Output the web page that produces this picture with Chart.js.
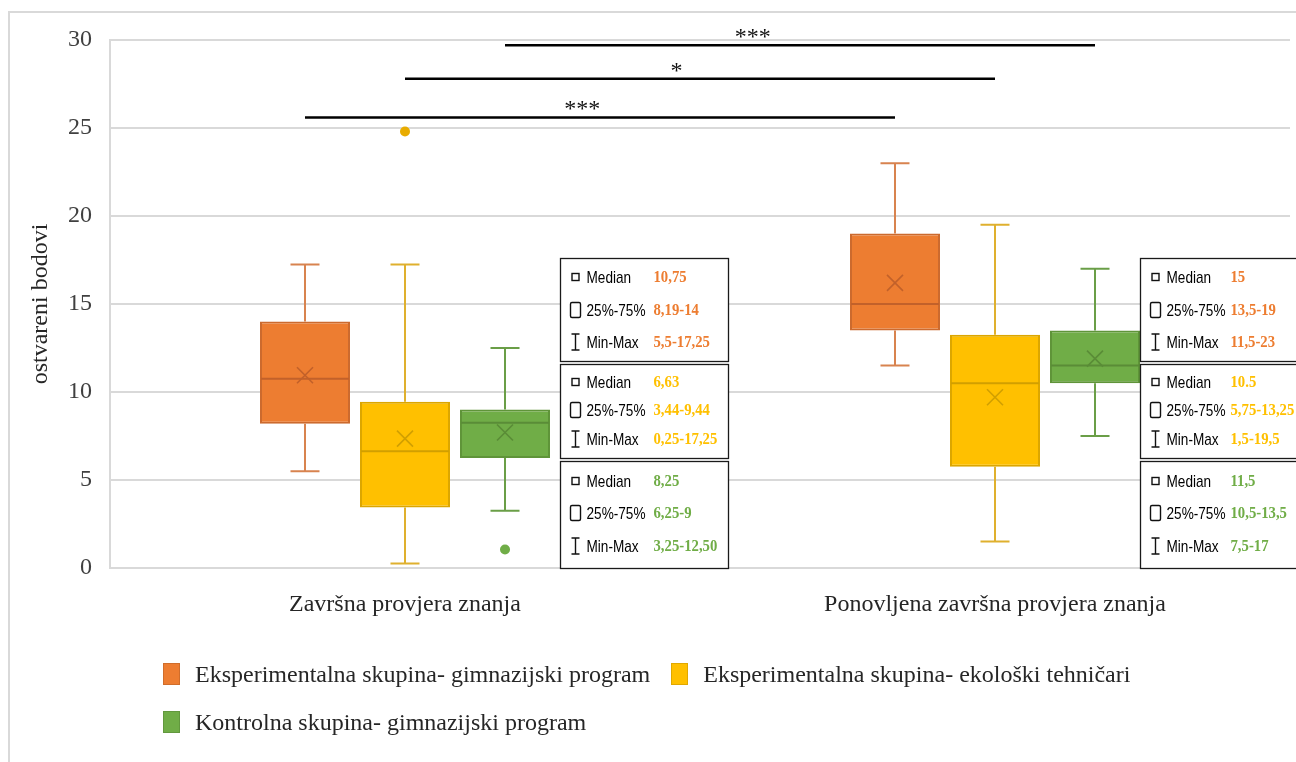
<!DOCTYPE html>
<html><head><meta charset="utf-8">
<script src="https://cdn.jsdelivr.net/npm/chart.js@4"></script>
<style>
html,body{margin:0;padding:0;background:#fff;}
#wrap{position:relative;width:1296px;height:762px;overflow:hidden;background:#fff;}
canvas{display:block;}
#legend{position:absolute;left:163px;top:662px;width:1000px;display:flex;flex-wrap:wrap;column-gap:21px;row-gap:24px;font-family:"Liberation Serif","Times New Roman",serif;font-size:24px;color:#262626;line-height:24px;}
.item{display:flex;align-items:center;white-space:nowrap;height:24px;}
.sw{width:17px;height:22px;margin-right:15px;box-sizing:border-box;border:1px solid rgba(0,0,0,0.12);}
</style></head>
<body><div id="wrap"><canvas id="c" width="1296" height="762"></canvas><div id="legend"></div></div>
<script>
// ---- data ----
const categories = ["Završna provjera znanja", "Ponovljena završna provjera znanja"];
const seriesNames = ["Eksperimentalna skupina- gimnazijski program", "Eksperimentalna skupina- ekološki tehničari", "Kontrolna skupina- gimnazijski program"];
// per series: [category0, category1]
const minValues    = [[5.5, 11.5], [0.25, 1.5], [3.25, 7.5]];
const q1Values     = [[8.19, 13.5], [3.44, 5.75], [6.25, 10.5]];
const medianValues = [[10.75, 15], [6.63, 10.5], [8.25, 11.5]];
const q3Values     = [[14, 19], [9.44, 13.25], [9, 13.5]];
const maxValues    = [[17.25, 23], [17.25, 19.5], [12.5, 17]];
const meanValues   = [[10.95, 16.2], [7.35, 9.7], [7.7, 11.9]];
const outlierValues = [[[], []], [[24.8], []], [[1.05], []]];
const yTicks = {min: 0, max: 30, step: 5};
// significance lines: series connected across the two categories
const sigSeries = [0, 1, 2];
const sigValues = [25.6, 27.8, 29.7];
const sigLabels = ["***", "*", "***"];
// info boxes text [category][series]
const infoMedian = [["10,75", "6,63", "8,25"], ["15", "10.5", "11,5"]];
const infoIQR    = [["8,19-14", "3,44-9,44", "6,25-9"], ["13,5-19", "5,75-13,25", "10,5-13,5"]];
const infoRange  = [["5,5-17,25", "0,25-17,25", "3,25-12,50"], ["11,5-23", "1,5-19,5", "7,5-17"]];
const infoRowLabels = ["Median", "25%-75%", "Min-Max"];

// ---- styles ----
const fillColors    = ["#ED7D31", "#FFC000", "#70AD47"];
const borderColors  = ["#CC6A2E", "#DCA600", "#5F9439"];
const whiskerColors = ["#D8834F", "#DFB02E", "#6A9E47"];
const markColors    = ["#C2612A", "#D19F00", "#5A8C37"];
const outlierColors = ["#ED7D31", "#E8AC00", "#70AD47"];
const valueColors   = ["#ED7D31", "#FFC000", "#70AD47"];
const SERIF = '"Liberation Serif","Times New Roman",serif';
const SANS = '"Liberation Sans",Arial,sans-serif';
const sigTextFrac = [0.47, 0.46, 0.42];
const infoLayout = {
  colOffset: [155, 145],          // from category centre
  colWidth: [168, 157],
  valueX: [93, 90],
  boxes: [[258, 361], [364, 458], [461, 568]],
  rows: [[19, 52, 84], [18, 46, 75], [20, 52, 85]]
};

// legend (HTML)
const leg = document.getElementById('legend');
seriesNames.forEach((n, s) => {
  const it = document.createElement('div'); it.className = 'item';
  const sw = document.createElement('span'); sw.className = 'sw'; sw.style.background = fillColors[s];
  const tx = document.createElement('span'); tx.textContent = n;
  it.appendChild(sw); it.appendChild(tx); leg.appendChild(it);
});

function condText(c, text, x, y, sx) {
  c.save(); c.translate(x, y); c.scale(sx, 1); c.fillText(text, 0, 0); c.restore();
}

const boxPlugin = {
  id: 'boxplot',
  beforeDraw(chart) {
    const c = chart.ctx;
    c.save();
    c.fillStyle = '#fff'; c.fillRect(0, 0, chart.width, chart.height);
    c.strokeStyle = '#d9d9d9'; c.lineWidth = 2;
    c.beginPath(); c.moveTo(9, chart.height); c.lineTo(9, 12); c.lineTo(chart.width, 12); c.stroke();
    c.restore();
  },
  beforeDatasetsDraw(chart) {
    const c = chart.ctx, y = chart.scales.y;
    c.save();
    seriesNames.forEach((n, s) => {
      const meta = chart.getDatasetMeta(s);
      meta.data.forEach((bar, i) => {
        const x = bar.x, hw = 14.5;
        c.strokeStyle = whiskerColors[s]; c.lineWidth = 2;
        const yMax = y.getPixelForValue(maxValues[s][i]), yQ3 = y.getPixelForValue(q3Values[s][i]);
        const yMin = y.getPixelForValue(minValues[s][i]), yQ1 = y.getPixelForValue(q1Values[s][i]);
        c.beginPath();
        c.moveTo(x, yQ3); c.lineTo(x, yMax);
        c.moveTo(x - hw, yMax); c.lineTo(x + hw, yMax);
        c.moveTo(x, yQ1); c.lineTo(x, yMin);
        c.moveTo(x - hw, yMin); c.lineTo(x + hw, yMin);
        c.stroke();
      });
    });
    c.restore();
  },
  afterDatasetsDraw(chart) {
    const c = chart.ctx, y = chart.scales.y;
    c.save();
    seriesNames.forEach((n, s) => {
      const meta = chart.getDatasetMeta(s);
      meta.data.forEach((bar, i) => {
        const x = bar.x, hw = bar.width / 2;
        const ym = y.getPixelForValue(medianValues[s][i]);
        c.strokeStyle = markColors[s]; c.lineWidth = 2;
        c.beginPath(); c.moveTo(x - hw + 1, ym); c.lineTo(x + hw - 1, ym); c.stroke();
        const ya = y.getPixelForValue(meanValues[s][i]), k = 8;
        c.lineWidth = 1.6;
        c.beginPath(); c.moveTo(x - k, ya - k); c.lineTo(x + k, ya + k); c.moveTo(x + k, ya - k); c.lineTo(x - k, ya + k); c.stroke();
        c.fillStyle = outlierColors[s];
        outlierValues[s][i].forEach(v => {
          c.beginPath(); c.arc(x, y.getPixelForValue(v), 5, 0, Math.PI * 2); c.fill();
        });
      });
    });
    c.strokeStyle = '#000'; c.lineWidth = 2.5; c.fillStyle = '#111';
    c.font = '24px ' + SERIF; c.textAlign = 'center'; c.textBaseline = 'alphabetic';
    sigSeries.forEach((s, k) => {
      const meta = chart.getDatasetMeta(s);
      const x0 = meta.data[0].x, x1 = meta.data[1].x, yy = y.getPixelForValue(sigValues[k]);
      c.beginPath(); c.moveTo(x0, yy); c.lineTo(x1, yy); c.stroke();
      c.fillText(sigLabels[k], x0 + (x1 - x0) * sigTextFrac[k], yy - 1);
    });
    c.restore();
  },
  afterDraw(chart) {
    const c = chart.ctx, xs = chart.scales.x;
    c.save();
    categories.forEach((cat, i) => {
      const left = Math.round(xs.getPixelForValue(i) + infoLayout.colOffset[i]) + 0.5;
      const w = infoLayout.colWidth[i];
      seriesNames.forEach((n, s) => {
        const [t, b] = infoLayout.boxes[s];
        c.fillStyle = '#fff'; c.fillRect(left, t, w, b - t);
        c.strokeStyle = '#1a1a1a'; c.lineWidth = 1.3; c.strokeRect(left, t + 0.5, w, b - t);
        const vals = [infoMedian[i][s], infoIQR[i][s], infoRange[i][s]];
        infoLayout.rows[s].forEach((ro, r) => {
          const ry = t + ro;
          const ix = left + 15;
          c.strokeStyle = '#111'; c.lineWidth = 1.4;
          if (r === 0) { c.strokeRect(ix - 3.5, ry - 3.5, 7, 7); }
          else if (r === 1) { c.beginPath(); c.roundRect(ix - 5, ry - 7.5, 10, 15, 1.5); c.stroke(); }
          else {
            c.beginPath(); c.moveTo(ix, ry - 8); c.lineTo(ix, ry + 8);
            c.moveTo(ix - 4, ry - 8); c.lineTo(ix + 4, ry - 8);
            c.moveTo(ix - 4, ry + 8); c.lineTo(ix + 4, ry + 8); c.stroke();
          }
          c.fillStyle = '#000'; c.font = '17px ' + SANS; c.textAlign = 'left'; c.textBaseline = 'middle';
          condText(c, infoRowLabels[r], left + 26, ry + 1, 0.8);
          c.fillStyle = valueColors[s]; c.font = 'bold 16px ' + SERIF;
          condText(c, vals[r], left + infoLayout.valueX[i], ry + 1, 0.92);
        });
      });
    });
    c.restore();
  }
};

new Chart(document.getElementById('c').getContext('2d'), {
  type: 'bar',
  data: {
    labels: categories,
    datasets: seriesNames.map((n, s) => ({
      label: n,
      data: categories.map((cat, i) => [q1Values[s][i], q3Values[s][i]]),
      backgroundColor: fillColors[s],
      borderColor: borderColors[s],
      borderWidth: 2,
      borderSkipped: false,
      categoryPercentage: 0.5085,
      barPercentage: 0.9
    }))
  },
  options: {
    responsive: false,
    animation: false,
    layout: {padding: {left: 0, top: 40, right: 6, bottom: 144}},
    plugins: {legend: {display: false}, tooltip: {enabled: false}},
    scales: {
      x: {
        grid: {display: false}, border: {display: false},
        ticks: {padding: 14, color: '#262626', font: {family: SERIF, size: 24}},
        afterFit(s) { s.height = 50; }
      },
      y: {
        min: yTicks.min, max: yTicks.max,
        ticks: {stepSize: yTicks.step, padding: 18, color: '#404040', font: {family: SERIF, size: 24}},
        grid: {color: '#d9d9d9', lineWidth: 2, drawTicks: false},
        border: {color: '#d9d9d9', width: 2},
        title: {display: true, text: 'ostvareni bodovi', color: '#262626', font: {family: SERIF, size: 24}, padding: {top: 26, bottom: 0}},
        afterFit(s) { s.width = 110; }
      }
    }
  },
  plugins: [boxPlugin]
});
</script>
</body></html>
